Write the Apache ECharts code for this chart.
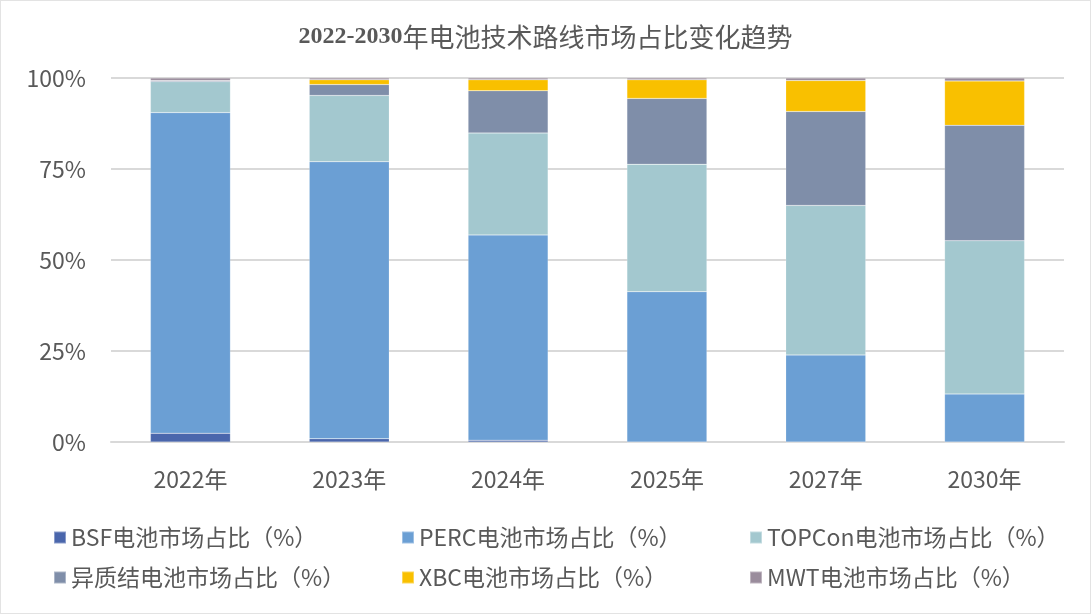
<!DOCTYPE html>
<html>
<head>
<meta charset="utf-8">
<script src="https://cdn.jsdelivr.net/npm/echarts@6/dist/echarts.min.js"></script>
<style>
html,body{margin:0;padding:0;background:#fff;}
#c{width:1091px;height:614px;box-sizing:border-box;border:1px solid #e3e3e3;}
</style>
</head>
<body>
<div id="c"></div>
<script>
const categories = ['2022年','2023年','2024年','2025年','2027年','2030年'];
const seriesNames = ['BSF电池市场占比（%）','PERC电池市场占比（%）','TOPCon电池市场占比（%）','异质结电池市场占比（%）','XBC电池市场占比（%）','MWT电池市场占比（%）'];
const bsf    = [2.4, 0.9, 0.5, 0, 0, 0];
const perc   = [88.1, 76.1, 56.4, 41.3, 23.9, 13.2];
const topcon = [8.5, 18.2, 28.0, 35.0, 41.1, 42.1];
const hjt    = [0.3, 3.0, 11.6, 18.1, 25.8, 31.7];
const xbc    = [0, 1.3, 3.0, 5.1, 8.5, 12.2];
const mwt    = [0.7, 0.5, 0.5, 0.5, 0.7, 0.8];
const yTicks = [0, 25, 50, 75, 100];

const colors = ['#4a66ac','#6b9fd4','#a3c8cf','#7f8ea9','#f9c000','#9a8c9c'];
const values = [bsf, perc, topcon, hjt, xbc, mwt];
const font = '"Noto Sans CJK SC", "Open Sans", sans-serif';

const legendPos = [[47,520],[395,520],[743,520],[47,560],[395,560],[743,560]];
const legends = seriesNames.map((n,i)=>({
  data:[n], left:legendPos[i][0], top:legendPos[i][1],
  itemWidth:12, itemHeight:12, itemGap:8, icon:'rect',
  textStyle:{fontSize:23, color:'#595959', fontFamily:font}
}));

const chart = echarts.init(document.getElementById('c'));
chart.setOption({
  animation:false,
  color:colors,
  title:{
    text:'{a|2022-2030}{b|年电池技术路线市场占比变化趋势}',
    left:'center', top:18,
    textStyle:{
      rich:{
        a:{fontFamily:'"Liberation Serif", serif', fontWeight:'bold', fontSize:24, color:'#595959'},
        b:{fontFamily:font, fontSize:26, color:'#595959', fontWeight:'normal'}
      }
    }
  },
  legend:legends,
  grid:{left:110, right:26, top:77, bottom:171},
  xAxis:{
    type:'category', data:categories,
    axisLine:{lineStyle:{color:'#d9d9d9', width:2}},
    axisTick:{show:false},
    axisLabel:{fontSize:23, color:'#595959', fontFamily:font, margin:26}
  },
  yAxis:{
    type:'value', min:yTicks[0], max:yTicks[yTicks.length-1], interval:25,
    axisLine:{show:false}, axisTick:{show:false},
    splitLine:{lineStyle:{color:'#d9d9d9', width:2}},
    axisLabel:{formatter:'{value}%', fontSize:23, color:'#595959', fontFamily:font, margin:25}
  },
  series:seriesNames.map((n,i)=>({
    name:n, type:'bar', stack:'total', data:values[i], barWidth:80,
    itemStyle:{color:colors[i], borderColor:'rgba(255,255,255,0.35)', borderWidth:0.5}
  }))
});
</script>
</body>
</html>
